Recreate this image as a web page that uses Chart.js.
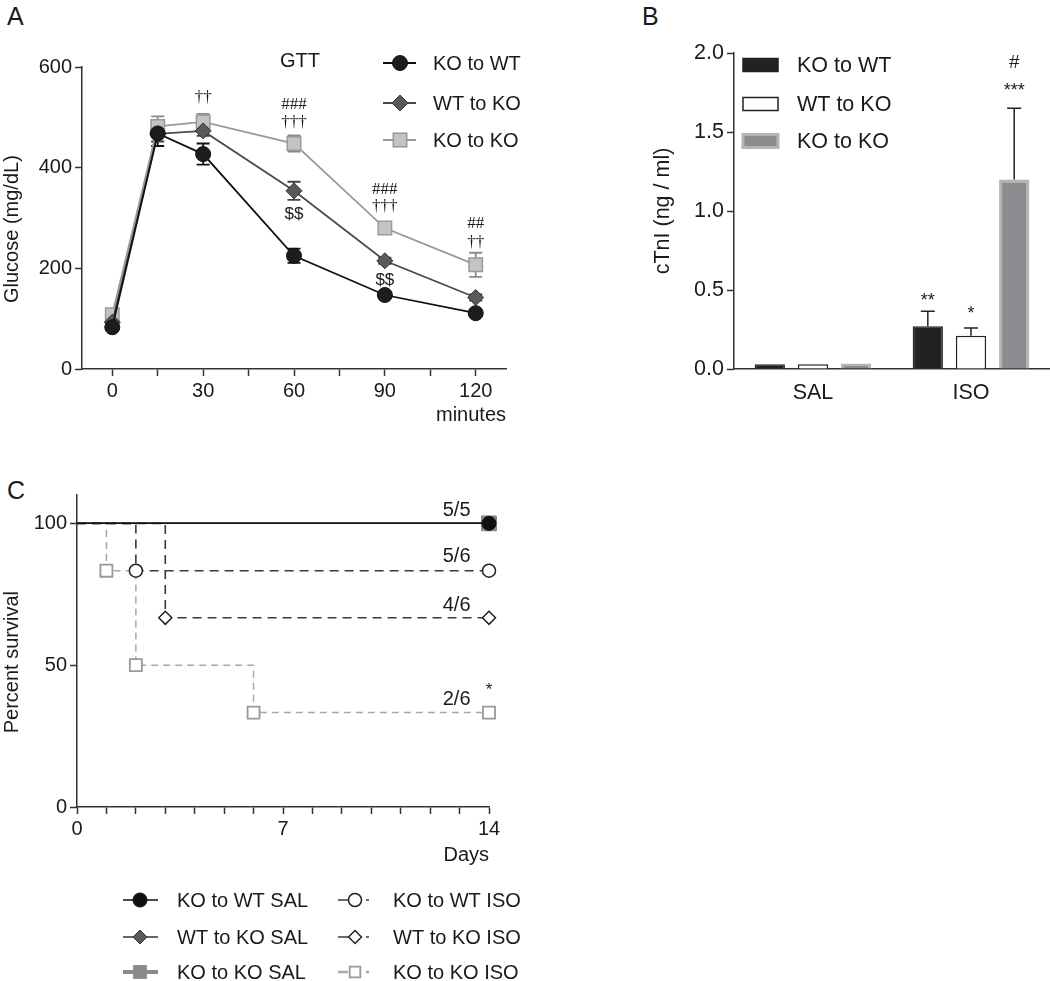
<!DOCTYPE html>
<html>
<head>
<meta charset="utf-8">
<script src="https://cdn.jsdelivr.net/npm/chart.js@4.4.1/dist/chart.umd.min.js"></script>
<style>
  body { margin: 0; background: #fff; width: 1050px; height: 981px; position: relative; overflow: hidden;
         font-family: 'Liberation Sans', Arial, sans-serif; color: #1a1a1a; }
  canvas { position: absolute; }
  .panel { position: absolute; font-size: 25px; line-height: 1; }
</style>
</head>
<body>
<div class="panel" style="left:7px;top:4px">A</div>
<div class="panel" style="left:642px;top:4px">B</div>
<div class="panel" style="left:7px;top:478px">C</div>
<canvas id="gtt" width="575" height="430" style="left:0;top:0"></canvas>
<canvas id="ctni" width="470" height="420" style="left:580px;top:0"></canvas>
<canvas id="surv" width="580" height="501" style="left:0;top:480px"></canvas>
<script>
// ---- panel A: glucose tolerance test ----
const gttMinutes = [0, 15, 30, 60, 90, 120];
const gttTickMinutes = [0, 15, 30, 45, 60, 75, 90, 105, 120];
const gttKoToWt = [83, 468, 427, 225, 147, 111];
const gttKoToWtErr = [6, 25, 21, 14, 5, 5];
const gttWtToKo = [93, 467, 473, 354, 215, 142];
const gttWtToKoErr = [6, 15, 10, 18, 6, 6];
const gttKoToKo = [108, 482, 491, 448, 280, 207];
const gttKoToKoErr = [10, 20, 16, 16, 8, 24];
const glucoseTicks = [0, 200, 400, 600];

// ---- panel B: cardiac troponin ----
const troponinGroups = ['SAL', 'ISO'];
const cTnIKoToWt = [0.03, 0.27];
const cTnIKoToWtErr = [0, 0.095];
const cTnIWtToKo = [0.03, 0.21];
const cTnIWtToKoErr = [0, 0.05];
const cTnIKoToKo = [0.035, 1.20];
const cTnIKoToKoErr = [0, 0.45];

// ---- panel C: survival ----
const survTickDays = [0, 1, 2, 3, 4, 5, 6, 7, 8, 9, 10, 11, 12, 13, 14];
const survSalDays = [0, 14];
const survSalPct = [100, 100];
const survKoToWtIsoDays = [0, 2, 14];
const survKoToWtIsoPct = [100, 83.3, 83.3];
const survWtToKoIsoDays = [0, 3, 14];
const survWtToKoIsoPct = [100, 66.7, 66.7];
const survKoToKoIsoDays = [0, 1, 2, 6, 14];
const survKoToKoIsoPct = [100, 83.3, 50, 33.3, 33.3];
const survivalTicks = [0, 50, 100];

const SANS = "'Liberation Sans', Arial, sans-serif";
const SERIF = "'Liberation Serif', 'Times New Roman', serif";
Chart.defaults.font.family = SANS;
Chart.defaults.font.size = 20;
Chart.defaults.color = '#1a1a1a';

function pts(xs, ys) { return xs.map((x, i) => ({ x: x, y: ys[i] })); }

// error bars, drawn from the y scale
function drawErrorBars(chart, opts) {
  const ctx = chart.ctx, y = chart.scales.y;
  chart.data.datasets.forEach((ds, i) => {
    if (!ds.errors) return;
    chart.getDatasetMeta(i).data.forEach((el, j) => {
      const e = ds.errors[j];
      if (!e) return;
      const v = typeof ds.data[j] === 'object' ? ds.data[j].y : ds.data[j];
      const top = y.getPixelForValue(v + e);
      const bot = opts.upOnly ? el.y : y.getPixelForValue(v - e);
      ctx.save();
      ctx.strokeStyle = ds.errorColor || '#222';
      ctx.lineWidth = opts.lineWidth || 1.5;
      ctx.beginPath();
      ctx.moveTo(el.x, bot); ctx.lineTo(el.x, top);
      ctx.moveTo(el.x - opts.cap, top); ctx.lineTo(el.x + opts.cap, top);
      if (!opts.upOnly) { ctx.moveTo(el.x - opts.cap, bot); ctx.lineTo(el.x + opts.cap, bot); }
      ctx.stroke();
      ctx.restore();
    });
  });
}
const errorBars = {
  id: 'errorBars',
  beforeDatasetsDraw(chart, args, opts) { if (!opts.after) drawErrorBars(chart, opts); },
  afterDatasetsDraw(chart, args, opts) { if (opts.after) drawErrorBars(chart, opts); }
};

// significance marks and small labels
const notes = {
  id: 'notes',
  afterDatasetsDraw(chart, args, opts) {
    const ctx = chart.ctx;
    ctx.save();
    (opts.items || []).forEach(n => {
      const px = n.dataset !== undefined ? chart.getDatasetMeta(n.dataset).data[n.index].x
                                         : chart.scales.x.getPixelForValue(n.x);
      ctx.font = n.font;
      ctx.fillStyle = '#1a1a1a';
      ctx.textAlign = n.align || 'center';
      ctx.textBaseline = 'middle';
      ctx.fillText(n.text, px, chart.scales.y.getPixelForValue(n.y));
    });
    ctx.restore();
  }
};

// hand placed legend that reuses the dataset styles
const key = {
  id: 'key',
  afterDraw(chart, args, opts) {
    const ctx = chart.ctx;
    ctx.save();
    opts.items.forEach(it => {
      const ds = chart.data.datasets[it.dataset];
      if (it.box) {
        ctx.fillStyle = ds.backgroundColor;
        ctx.fillRect(it.x0, it.y - it.h / 2, it.x1 - it.x0, it.h);
        ctx.strokeStyle = ds.borderColor;
        ctx.lineWidth = ds.borderWidth;
        ctx.strokeRect(it.x0, it.y - it.h / 2, it.x1 - it.x0, it.h);
      } else {
        ctx.strokeStyle = ds.borderColor;
        ctx.lineWidth = ds.legendLineWidth || ds.borderWidth;
        ctx.setLineDash(ds.legendDash || ds.borderDash || []);
        ctx.beginPath(); ctx.moveTo(it.x0, it.y); ctx.lineTo(it.x1, it.y); ctx.stroke();
        ctx.setLineDash([]);
        ctx.fillStyle = ds.pointBackgroundColor;
        ctx.strokeStyle = ds.pointBorderColor;
        ctx.lineWidth = ds.pointBorderWidth;
        Chart.helpers.drawPoint(ctx, { pointStyle: ds.pointStyle, radius: it.r, rotation: 0,
                                       borderWidth: ds.pointBorderWidth }, it.mx, it.y);
      }
      ctx.fillStyle = '#1a1a1a';
      ctx.font = opts.font;
      ctx.textAlign = 'left';
      ctx.textBaseline = 'middle';
      ctx.fillText(ds.label, it.tx, it.y + 1);
    });
    if (opts.title) {
      ctx.font = opts.font;
      ctx.textAlign = 'center';
      ctx.fillText(opts.title.text, opts.title.x, opts.title.y);
    }
    ctx.restore();
  }
};

function axisGrid() {
  return { display: true, drawOnChartArea: false, drawTicks: true, tickLength: 7,
           tickWidth: 1.5, tickColor: '#333' };
}
const axisBorder = { display: true, color: '#333', width: 1.5 };

// ---------- A ----------
new Chart(document.getElementById('gtt'), {
  type: 'line',
  data: {
    datasets: [
      { label: 'KO to WT', data: pts(gttMinutes, gttKoToWt), errors: gttKoToWtErr, errorColor: '#111',
        borderColor: '#111', borderWidth: 1.8, pointStyle: 'circle', pointRadius: 7.5,
        pointBackgroundColor: '#1c1c1c', pointBorderColor: '#111', pointBorderWidth: 1, order: 1 },
      { label: 'WT to KO', data: pts(gttMinutes, gttWtToKo), errors: gttWtToKoErr, errorColor: '#444',
        borderColor: '#4a4a4a', borderWidth: 1.8, pointStyle: 'rectRot', pointRadius: 8,
        pointBackgroundColor: '#5a5a5a', pointBorderColor: '#333', pointBorderWidth: 1, order: 2 },
      { label: 'KO to KO', data: pts(gttMinutes, gttKoToKo), errors: gttKoToKoErr, errorColor: '#8a8a8a',
        borderColor: '#999', borderWidth: 1.8, pointStyle: 'rect', pointRadius: 9.5,
        pointBackgroundColor: '#c4c4c4', pointBorderColor: '#999', pointBorderWidth: 1.5, order: 3 }
    ]
  },
  options: {
    responsive: false, animation: false, devicePixelRatio: 1,
    layout: { padding: { left: 0, right: 69, top: 67, bottom: 3 } },
    elements: { line: { tension: 0 } },
    plugins: {
      legend: { display: false }, tooltip: { enabled: false },
      errorBars: { cap: 6.5, lineWidth: 1.8 },
      notes: { items: [
        { x: 30, y: 540, text: '††', font: '17px ' + SERIF },
        { x: 60, y: 526, text: '###', font: '17px ' + SERIF },
        { x: 60, y: 490, text: '†††', font: '17px ' + SERIF },
        { x: 60, y: 308, text: '$$', font: '17px ' + SANS },
        { x: 90, y: 356, text: '###', font: '17px ' + SERIF },
        { x: 90, y: 322, text: '†††', font: '17px ' + SERIF },
        { x: 90, y: 177, text: '$$', font: '17px ' + SANS },
        { x: 120, y: 290, text: '##', font: '17px ' + SERIF },
        { x: 120, y: 251, text: '††', font: '17px ' + SERIF }
      ] },
      key: { font: '20px ' + SANS, title: { text: 'GTT', x: 300, y: 61 }, items: [
        { dataset: 0, x0: 383, x1: 416, mx: 400, r: 7.5, tx: 433, y: 63 },
        { dataset: 1, x0: 383, x1: 416, mx: 400, r: 8, tx: 433, y: 103 },
        { dataset: 2, x0: 383, x1: 416, mx: 400, r: 9.5, tx: 433, y: 140 }
      ] }
    },
    scales: {
      x: {
        type: 'linear', min: -10, max: 130,
        afterBuildTicks: s => { s.ticks = gttTickMinutes.map(v => ({ value: v })); },
        ticks: { callback: v => (v % 30 === 0 ? v : ''), autoSkip: false, maxRotation: 0, padding: 3 },
        grid: axisGrid(), border: axisBorder,
        title: { display: true, text: 'minutes', align: 'end', padding: 0 },
        afterFit: s => { s.height = 58; }
      },
      y: {
        min: 0, max: 600,
        afterBuildTicks: s => { s.ticks = glucoseTicks.map(v => ({ value: v })); },
        ticks: { padding: 3 },
        grid: axisGrid(), border: axisBorder,
        // trailing spaces push the rotated title a little lower, as in the figure
        title: { display: true, text: 'Glucose (mg/dL)    ', padding: 0 },
        afterFit: s => { s.width = 82; }
      }
    }
  },
  plugins: [errorBars, notes, key]
});

// ---------- B ----------
new Chart(document.getElementById('ctni'), {
  type: 'bar',
  data: {
    labels: troponinGroups,
    datasets: [
      { label: 'KO to WT', data: cTnIKoToWt, errors: cTnIKoToWtErr, backgroundColor: '#222',
        borderColor: '#222', borderWidth: 1.5 },
      { label: 'WT to KO', data: cTnIWtToKo, errors: cTnIWtToKoErr, backgroundColor: '#fff',
        borderColor: '#222', borderWidth: 1.5 },
      { label: 'KO to KO', data: cTnIKoToKo, errors: cTnIKoToKoErr, backgroundColor: '#8c8c90',
        borderColor: '#b4b4b4', borderWidth: 3 }
    ]
  },
  options: {
    responsive: false, animation: false, devicePixelRatio: 1,
    layout: { padding: { left: 70, right: 0, top: 53, bottom: 11 } },
    datasets: { bar: { categoryPercentage: 0.82, barPercentage: 0.7 } },
    plugins: {
      legend: { display: false }, tooltip: { enabled: false },
      errorBars: { cap: 7, lineWidth: 1.5, upOnly: true, after: true },
      notes: { items: [
        { dataset: 0, index: 1, y: 0.43, text: '**', font: '18px ' + SANS },
        { dataset: 1, index: 1, y: 0.35, text: '*', font: '18px ' + SANS },
        { dataset: 2, index: 1, y: 1.76, text: '***', font: '18px ' + SANS },
        { dataset: 2, index: 1, y: 1.94, text: '#', font: '19px ' + SANS }
      ] },
      key: { font: '21.5px ' + SANS, items: [
        { dataset: 0, box: true, x0: 163, x1: 198, h: 13, tx: 217, y: 65 },
        { dataset: 1, box: true, x0: 163, x1: 198, h: 13, tx: 217, y: 104 },
        { dataset: 2, box: true, x0: 163, x1: 198, h: 13, tx: 217, y: 141 }
      ] }
    },
    scales: {
      x: {
        ticks: { padding: 11, font: { size: 21.5 } },
        grid: { display: false, drawTicks: false }, border: axisBorder,
        afterFit: s => { s.height = 40; }
      },
      y: {
        min: 0, max: 2,
        ticks: { stepSize: 0.5, padding: 3, font: { size: 21.5 }, callback: v => v.toFixed(1) },
        grid: axisGrid(), border: axisBorder,
        title: { display: true, text: 'cTnI (ng / ml)', padding: 0, font: { size: 21.5 } },
        afterFit: s => { s.width = 84; }
      }
    }
  },
  plugins: [errorBars, notes, key]
});

// ---------- C ----------
new Chart(document.getElementById('surv'), {
  type: 'line',
  data: {
    datasets: [
      { label: 'KO to WT SAL', data: pts(survSalDays, survSalPct), stepped: true, borderColor: '#111',
        borderWidth: 1.5, pointStyle: 'circle', pointRadius: [0, 7], pointBackgroundColor: '#111',
        pointBorderColor: '#111', pointBorderWidth: 1, order: 0, clip: false },
      { label: 'WT to KO SAL', data: pts(survSalDays, survSalPct), stepped: true, borderColor: '#333',
        borderWidth: 1.5, pointStyle: 'rectRot', pointRadius: [0, 7], pointBackgroundColor: '#5a5a5a',
        pointBorderColor: '#333', pointBorderWidth: 1, order: 1, clip: false },
      { label: 'KO to KO SAL', data: pts(survSalDays, survSalPct), stepped: true, borderColor: '#8a8a8a',
        borderWidth: 1.5, legendLineWidth: 4, pointStyle: 'rect', pointRadius: [0, 10.5],
        pointBackgroundColor: '#8a8a8a', pointBorderColor: '#8a8a8a', pointBorderWidth: 1, order: 2, clip: false },
      { label: 'KO to WT ISO', data: pts(survKoToWtIsoDays, survKoToWtIsoPct), stepped: true,
        borderColor: '#3a3a3a', borderWidth: 1.6, borderDash: [9, 6], legendDash: [10, 18, 3, 20],
        pointStyle: 'circle', pointRadius: [0, 6.5, 6.5], pointBackgroundColor: '#fff',
        pointBorderColor: '#222', pointBorderWidth: 1.5, order: 3, clip: false },
      { label: 'WT to KO ISO', data: pts(survWtToKoIsoDays, survWtToKoIsoPct), stepped: true,
        borderColor: '#3a3a3a', borderWidth: 1.6, borderDash: [9, 6], legendDash: [10, 18, 3, 20],
        pointStyle: 'rectRot', pointRadius: [0, 6.5, 6.5], pointBackgroundColor: '#fff',
        pointBorderColor: '#222', pointBorderWidth: 1.5, order: 4, clip: false },
      { label: 'KO to KO ISO', data: pts(survKoToKoIsoDays, survKoToKoIsoPct), stepped: true,
        borderColor: '#a8a8a8', borderWidth: 1.5, borderDash: [7, 5], legendDash: [10, 18, 3, 20],
        legendLineWidth: 2.5, pointStyle: 'rect', pointRadius: [0, 8.5, 8.5, 8.5, 8.5],
        pointBackgroundColor: '#fff', pointBorderColor: '#999', pointBorderWidth: 1.8, order: 5, clip: false }
    ]
  },
  options: {
    responsive: false, animation: false, devicePixelRatio: 1,
    layout: { padding: { left: 0, right: 91, top: 11, bottom: 114 } },
    plugins: {
      legend: { display: false }, tooltip: { enabled: false },
      notes: { items: [
        { x: 12.9, y: 104.5, text: '5/5', font: '20px ' + SANS },
        { x: 12.9, y: 88.2, text: '5/6', font: '20px ' + SANS },
        { x: 12.9, y: 71.2, text: '4/6', font: '20px ' + SANS },
        { x: 12.9, y: 37.8, text: '2/6', font: '20px ' + SANS },
        { x: 14, y: 41, text: '*', font: '17px ' + SANS }
      ] },
      key: { font: '20px ' + SANS, items: [
        { dataset: 0, x0: 123, x1: 158, mx: 140, r: 7, tx: 177, y: 420 },
        { dataset: 1, x0: 123, x1: 158, mx: 140, r: 7, tx: 177, y: 457 },
        { dataset: 2, x0: 123, x1: 158, mx: 140, r: 9, tx: 177, y: 492 },
        { dataset: 3, x0: 338, x1: 370, mx: 355, r: 6.5, tx: 393, y: 420 },
        { dataset: 4, x0: 338, x1: 370, mx: 355, r: 6.5, tx: 393, y: 457 },
        { dataset: 5, x0: 338, x1: 370, mx: 355, r: 7.5, tx: 393, y: 492 }
      ] }
    },
    scales: {
      x: {
        type: 'linear', min: 0, max: 14,
        afterBuildTicks: s => { s.ticks = survTickDays.map(v => ({ value: v })); },
        ticks: { callback: v => (v % 7 === 0 ? v : ''), autoSkip: false, maxRotation: 0, padding: 3 },
        grid: axisGrid(), border: axisBorder,
        title: { display: true, text: 'Days', align: 'end', padding: 0 },
        afterFit: s => { s.height = 60; }
      },
      y: {
        min: 0, max: 110,
        afterBuildTicks: s => { s.ticks = survivalTicks.map(v => ({ value: v })); },
        ticks: { padding: 3 },
        grid: axisGrid(), border: axisBorder,
        title: { display: true, text: 'Percent survival    ', padding: 0 },
        afterFit: s => { s.width = 77; }
      }
    }
  },
  plugins: [notes, key]
});
</script>
</body>
</html>
